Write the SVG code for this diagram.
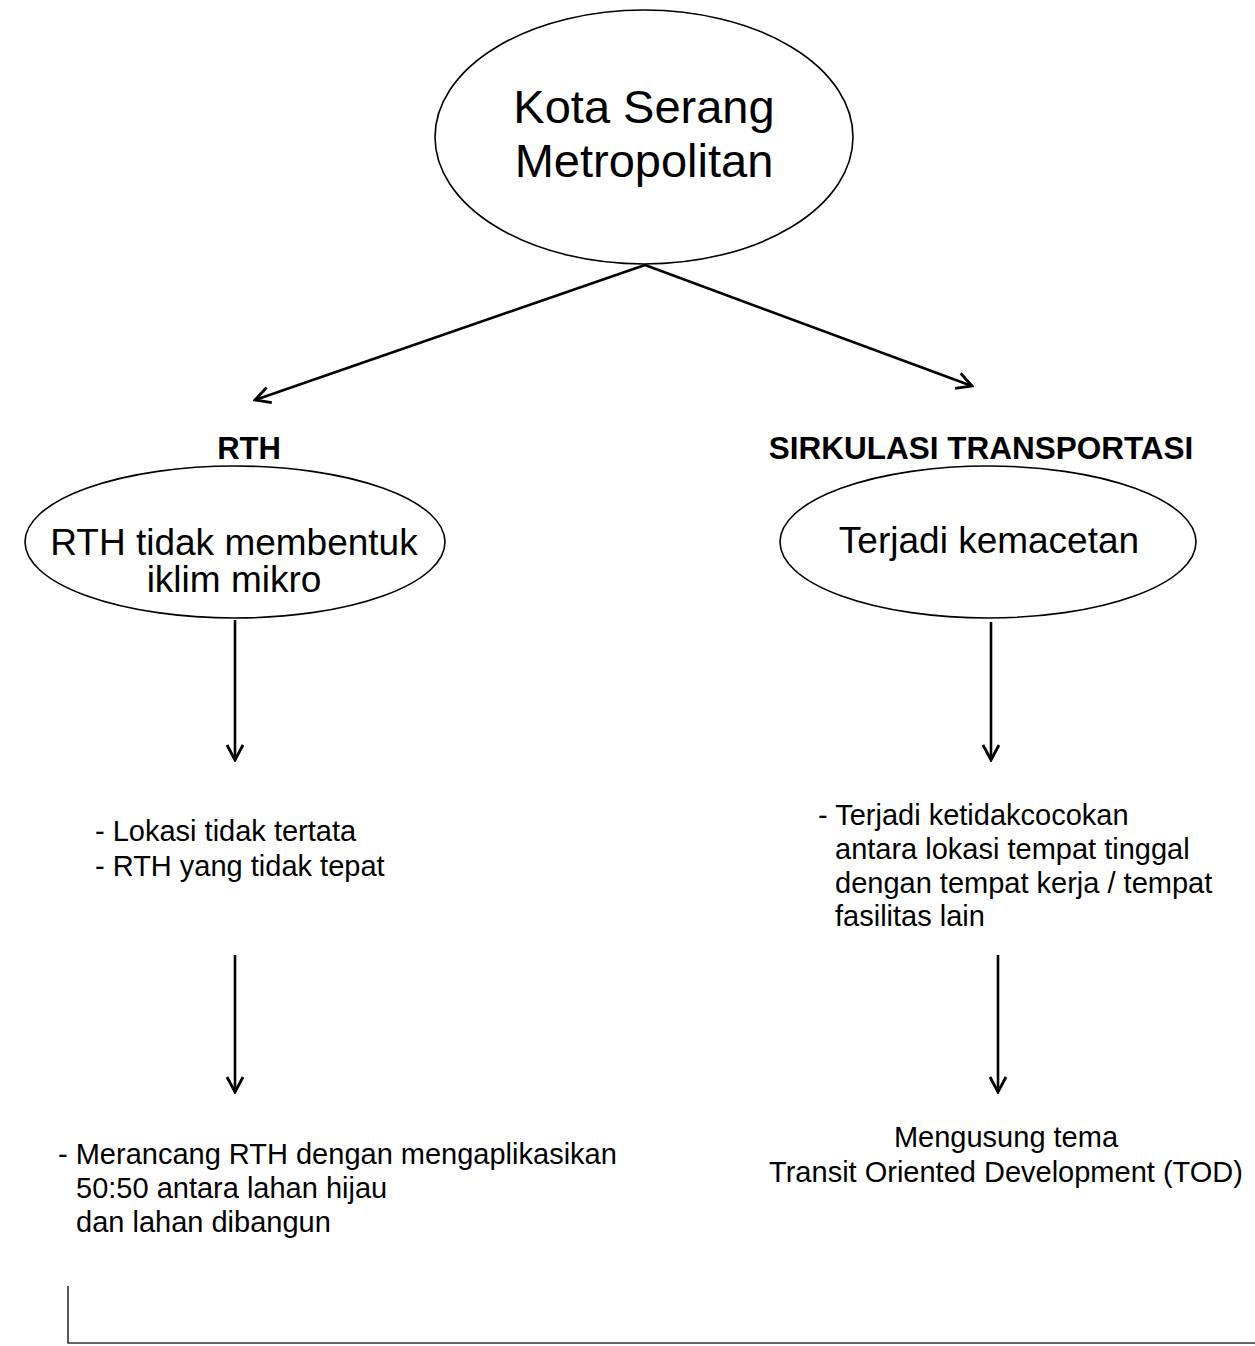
<svg xmlns="http://www.w3.org/2000/svg" width="1255" height="1346" viewBox="0 0 1255 1346">
<style>
.node{fill:#fff;stroke:#000;stroke-width:1.6}
.t{font-family:"Liberation Sans",Arial,sans-serif;fill:#000}
.conn{stroke:#000;stroke-width:2.6;fill:none}
</style>
<defs>
<marker id="ah" viewBox="0 0 20 20" refX="18" refY="10" markerWidth="20" markerHeight="20" markerUnits="userSpaceOnUse" orient="auto">
<path d="M3,2 L18,10 L3,18" fill="none" stroke="#000" stroke-width="2.8"/>
</marker>
</defs>
<rect width="1255" height="1346" fill="#fff"/>
<g id="connectors">
<line class="conn" x1="645" y1="265" x2="255" y2="400" marker-end="url(#ah)"/>
<line class="conn" x1="645" y1="265" x2="972" y2="386" marker-end="url(#ah)"/>
<line class="conn" x1="235" y1="620" x2="235" y2="760" marker-end="url(#ah)"/>
<line class="conn" x1="991" y1="622" x2="991" y2="760" marker-end="url(#ah)"/>
<line class="conn" x1="235" y1="955" x2="235" y2="1092" marker-end="url(#ah)"/>
<line class="conn" x1="998" y1="955" x2="998" y2="1092" marker-end="url(#ah)"/>
</g>
<g id="kota">
<ellipse class="node" cx="644" cy="137" rx="209" ry="127"/>
<text class="t" x="644" y="123" font-size="47" text-anchor="middle">Kota Serang</text>
<text class="t" x="644" y="177" font-size="47" text-anchor="middle">Metropolitan</text>
</g>
<g id="rth-title">
<text class="t" x="249" y="459" font-size="31" font-weight="bold" text-anchor="middle">RTH</text>
</g>
<g id="sirkulasi-title">
<text class="t" x="981" y="459" font-size="31.5" font-weight="bold" text-anchor="middle">SIRKULASI TRANSPORTASI</text>
</g>
<g id="rth-node">
<ellipse class="node" cx="235" cy="542" rx="210" ry="76"/>
<text class="t" x="234" y="555" font-size="37" text-anchor="middle">RTH tidak membentuk</text>
<text class="t" x="234" y="592" font-size="37" text-anchor="middle">iklim mikro</text>
</g>
<g id="macet-node">
<ellipse class="node" cx="988" cy="542" rx="208" ry="76"/>
<text class="t" x="989" y="553" font-size="37" text-anchor="middle">Terjadi kemacetan</text>
</g>
<g id="rth-cause">
<text class="t" x="95" y="841" font-size="29">- Lokasi tidak tertata</text>
<text class="t" x="95" y="876" font-size="29">- RTH yang tidak tepat</text>
</g>
<g id="macet-cause">
<text class="t" x="818" y="825" font-size="29">- Terjadi ketidakcocokan</text>
<text class="t" x="835" y="859" font-size="29">antara lokasi tempat tinggal</text>
<text class="t" x="835" y="893" font-size="29">dengan tempat kerja / tempat</text>
<text class="t" x="835" y="926" font-size="29">fasilitas lain</text>
</g>
<g id="rth-solution">
<text class="t" x="58" y="1164" font-size="29">- Merancang RTH dengan mengaplikasikan</text>
<text class="t" x="76" y="1198" font-size="29">50:50 antara lahan hijau</text>
<text class="t" x="76" y="1232" font-size="29">dan lahan dibangun</text>
</g>
<g id="macet-solution">
<text class="t" x="1006" y="1147" font-size="29" text-anchor="middle">Mengusung tema</text>
<text class="t" x="1006" y="1182" font-size="29" text-anchor="middle">Transit Oriented Development (TOD)</text>
</g>
<path d="M68,1286 V1343 H1255" fill="none" stroke="#333" stroke-width="1.6"/>
</svg>
